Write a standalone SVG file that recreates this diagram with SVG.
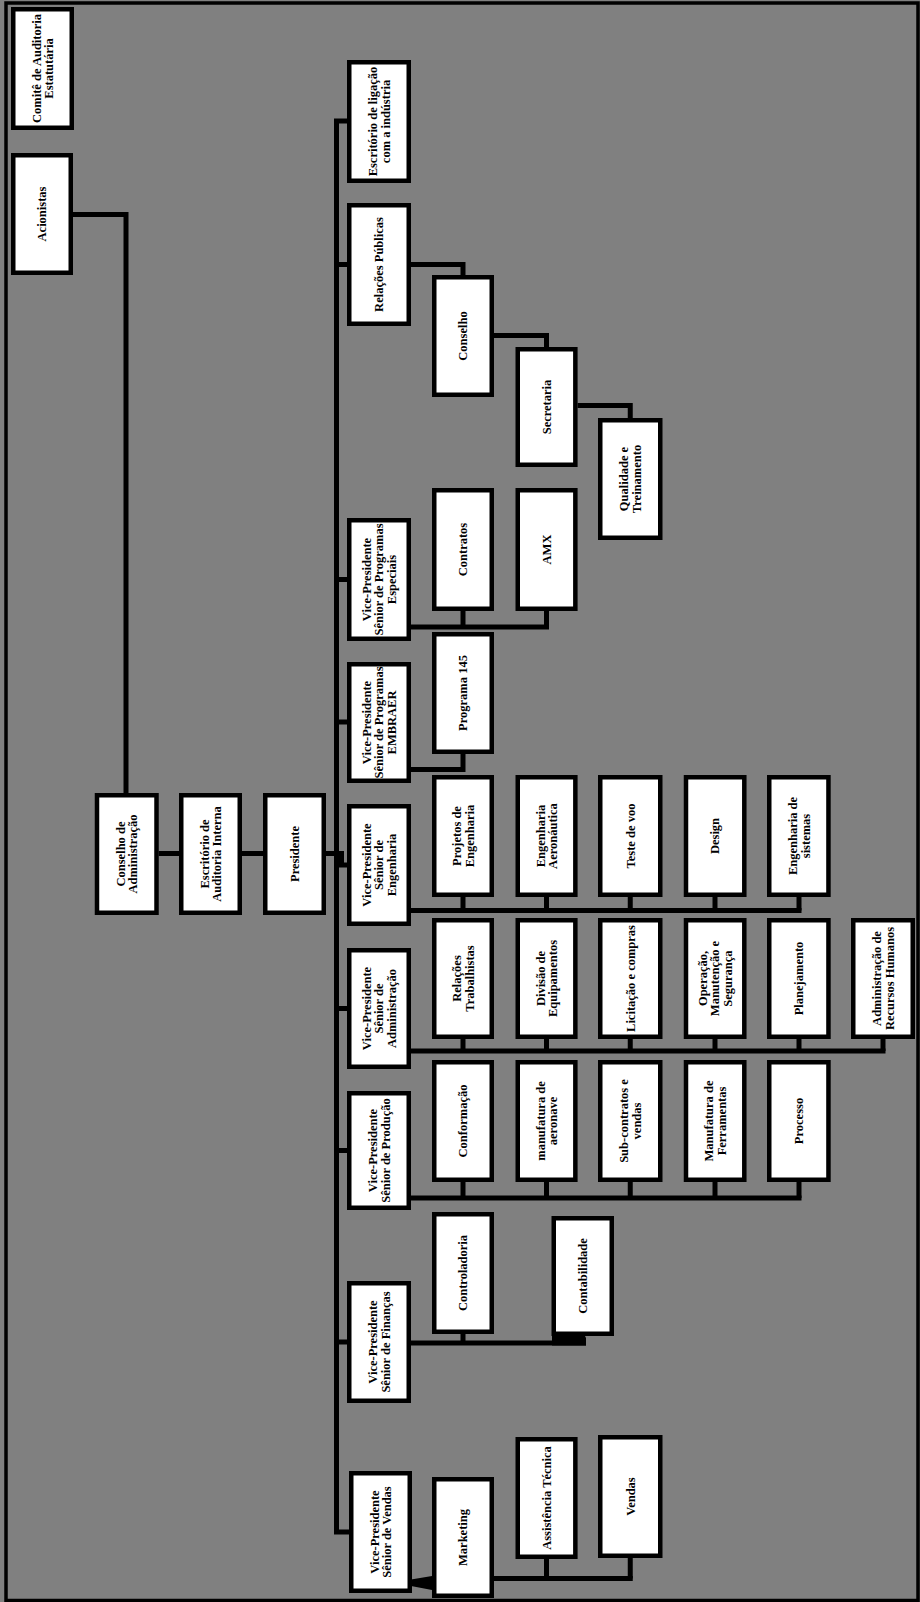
<svg xmlns="http://www.w3.org/2000/svg" width="920" height="1602" viewBox="0 0 920 1602">
<style>
.b{fill:#fff;stroke:#000;stroke-width:4.5}
.l{fill:none;stroke:#000;stroke-width:5;stroke-linecap:butt;stroke-linejoin:miter}
text{font-family:"Liberation Serif","Times New Roman",serif;font-weight:bold;font-size:12.5px;text-anchor:middle;fill:#000}
</style>
<rect x="0" y="0" width="920" height="1602" fill="#808080"/>
<rect x="6" y="3" width="912" height="1597.5" fill="none" stroke="#000" stroke-width="3.5"/>

<g id="connectors">
<path class="l" d="M73 214.5 H126 V793"/>
<path class="l" d="M158.7 853.5 H179"/>
<path class="l" d="M242 853.5 H263"/>
<path class="l" d="M326 853.5 H339"/>
<path class="l" d="M341.5 851 V867"/>
<path class="l" d="M347 121 H336.5 V1532 H349"/>
<path class="l" d="M336.5 264.5 H347"/>
<path class="l" d="M336.5 579.5 H347"/>
<path class="l" d="M336.5 722 H347"/>
<path class="l" d="M336.5 865 H347"/>
<path class="l" d="M336.5 1008.5 H347"/>
<path class="l" d="M336.5 1150.5 H347"/>
<path class="l" d="M336.5 1342 H347"/>
<path class="l" d="M411 264.5 H463 V275"/>
<path class="l" d="M494 335.5 H546.5 V347"/>
<path class="l" d="M577.6 405.5 H630.25 V418"/>
<path class="l" d="M411 627 H549"/>
<path class="l" d="M463 611 V627"/>
<path class="l" d="M546.5 611 V627"/>
<path class="l" d="M411 769.5 H463 V754"/>
<path class="l" d="M411 910.5 H801.5"/>
<path class="l" d="M463 897 V910.5 M546.5 897 V910.5 M630.25 897 V910.5 M715 897 V910.5 M799 897 V910.5"/>
<path class="l" d="M411 1051 H885.5"/>
<path class="l" d="M463 1039 V1051 M546.5 1039 V1051 M630.25 1039 V1051 M715 1039 V1051 M799 1039 V1051 M883 1039 V1051"/>
<path class="l" d="M411 1198 H801.5"/>
<path class="l" d="M463 1182 V1198 M546.5 1182 V1198 M630.25 1182 V1198 M715 1182 V1198 M799 1182 V1198"/>
<path class="l" d="M411 1343 H586"/>
<path class="l" d="M463 1334 V1343"/>
<polygon points="552,1334 584,1334 586,1338 586,1345.5 552,1345.5" fill="#000"/>
<path class="l" d="M494 1578.5 H632.75"/>
<path class="l" d="M546.5 1559 V1578.5 M630.25 1558 V1578.5"/>
<polygon points="411,1579.5 432,1576 432,1590 411,1586" fill="#000"/>
</g>

<g id="comite"><rect class="b" x="13.25" y="9.25" width="58.5" height="118.5"/><text transform="translate(42.5 68.5) rotate(-90)"><tspan x="0" y="-1.8">Comitê de Auditoria</tspan><tspan x="0" y="10.6">Estatutária</tspan></text></g>
<g id="acionistas"><rect class="b" x="13.25" y="155.25" width="57.5" height="117.5"/><text transform="translate(42 214) rotate(-90)"><tspan x="0" y="4.4">Acionistas</tspan></text></g>
<g id="conselho-adm"><rect class="b" x="97" y="795.25" width="59.5" height="117.5"/><text transform="translate(126.7 854) rotate(-90)"><tspan x="0" y="-1.8">Conselho de</tspan><tspan x="0" y="10.6">Administração</tspan></text></g>
<g id="auditoria-interna"><rect class="b" x="181.25" y="795.25" width="58.5" height="117.5"/><text transform="translate(210.5 854) rotate(-90)"><tspan x="0" y="-1.8">Escritório de</tspan><tspan x="0" y="10.6">Auditoria Interna</tspan></text></g>
<g id="presidente"><rect class="b" x="265.25" y="795.25" width="58.5" height="117.5"/><text transform="translate(294.5 854) rotate(-90)"><tspan x="0" y="4.4">Presidente</tspan></text></g>

<g id="ligacao"><rect class="b" x="349.25" y="62.25" width="59.5" height="118.5"/><text transform="translate(379 121.5) rotate(-90)"><tspan x="0" y="-1.8">Escritório de ligação</tspan><tspan x="0" y="10.6">com a indústria</tspan></text></g>
<g id="relacoes-publicas"><rect class="b" x="349.25" y="205.25" width="59.5" height="118.5"/><text transform="translate(379 264.5) rotate(-90)"><tspan x="0" y="4.4">Relações Públicas</tspan></text></g>
<g id="conselho"><rect class="b" x="434.25" y="277.25" width="57.5" height="117.5"/><text transform="translate(463 336) rotate(-90)"><tspan x="0" y="4.4">Conselho</tspan></text></g>
<g id="secretaria"><rect class="b" x="517.75" y="349.25" width="57.6" height="115.5"/><text transform="translate(546.5 407) rotate(-90)"><tspan x="0" y="4.4">Secretaria</tspan></text></g>
<g id="qualidade"><rect class="b" x="600.25" y="420.25" width="60" height="117.5"/><text transform="translate(630.25 479) rotate(-90)"><tspan x="0" y="-1.8">Qualidade e</tspan><tspan x="0" y="10.6">Treinamento</tspan></text></g>

<g id="vp-especiais"><rect class="b" x="349.25" y="520.25" width="59.5" height="118.5"/><text transform="translate(379 579.5) rotate(-90)"><tspan x="0" y="-8">Vice-Presidente</tspan><tspan x="0" y="4.4">Sênior de Programas</tspan><tspan x="0" y="16.8">Especiais</tspan></text></g>
<g id="contratos"><rect class="b" x="434.25" y="490.25" width="57.5" height="118.5"/><text transform="translate(463 549.5) rotate(-90)"><tspan x="0" y="4.4">Contratos</tspan></text></g>
<g id="amx"><rect class="b" x="517.75" y="490.25" width="57.6" height="118.5"/><text transform="translate(546.5 549.5) rotate(-90)"><tspan x="0" y="4.4">AMX</tspan></text></g>

<g id="vp-embraer"><rect class="b" x="349.25" y="664.25" width="59.5" height="116.5"/><text transform="translate(379 722.5) rotate(-90)"><tspan x="0" y="-8">Vice-Presidente</tspan><tspan x="0" y="4.4">Sênior de Programas</tspan><tspan x="0" y="16.8">EMBRAER</tspan></text></g>
<g id="programa-145"><rect class="b" x="434.25" y="634.25" width="57.5" height="117.5"/><text transform="translate(463 693) rotate(-90)"><tspan x="0" y="4.4">Programa 145</tspan></text></g>

<g id="vp-engenharia"><rect class="b" x="349.25" y="806.25" width="59.5" height="117.5"/><text transform="translate(379 865) rotate(-90)"><tspan x="0" y="-8">Vice-Presidente</tspan><tspan x="0" y="4.4">Sênior de</tspan><tspan x="0" y="16.8">Engenharia</tspan></text></g>
<g id="projetos"><rect class="b" x="434.25" y="777.25" width="57.5" height="117.5"/><text transform="translate(463 836) rotate(-90)"><tspan x="0" y="-1.8">Projetos de</tspan><tspan x="0" y="10.6">Engenharia</tspan></text></g>
<g id="eng-aeronautica"><rect class="b" x="517.75" y="777.25" width="57.6" height="117.5"/><text transform="translate(546.5 836) rotate(-90)"><tspan x="0" y="-1.8">Engenharia</tspan><tspan x="0" y="10.6">Aeronáutica</tspan></text></g>
<g id="teste-voo"><rect class="b" x="600.25" y="777.25" width="60" height="117.5"/><text transform="translate(630.25 836) rotate(-90)"><tspan x="0" y="4.4">Teste de voo</tspan></text></g>
<g id="design"><rect class="b" x="686" y="777.25" width="58.3" height="117.5"/><text transform="translate(715 836) rotate(-90)"><tspan x="0" y="4.4">Design</tspan></text></g>
<g id="eng-sistemas"><rect class="b" x="769.25" y="777.25" width="59.2" height="117.5"/><text transform="translate(799 836) rotate(-90)"><tspan x="0" y="-1.8">Engenharia de</tspan><tspan x="0" y="10.6">sistemas</tspan></text></g>

<g id="vp-administracao"><rect class="b" x="349.25" y="950.25" width="59.5" height="116.5"/><text transform="translate(379 1008.5) rotate(-90)"><tspan x="0" y="-8">Vice-Presidente</tspan><tspan x="0" y="4.4">Sênior de</tspan><tspan x="0" y="16.8">Administração</tspan></text></g>
<g id="relacoes-trabalhistas"><rect class="b" x="434.25" y="920.25" width="57.5" height="116.5"/><text transform="translate(463 978.5) rotate(-90)"><tspan x="0" y="-1.8">Relações</tspan><tspan x="0" y="10.6">Trabalhistas</tspan></text></g>
<g id="divisao-equipamentos"><rect class="b" x="517.75" y="920.25" width="57.6" height="116.5"/><text transform="translate(546.5 978.5) rotate(-90)"><tspan x="0" y="-1.8">Divisão de</tspan><tspan x="0" y="10.6">Equipamentos</tspan></text></g>
<g id="licitacao"><rect class="b" x="600.25" y="920.25" width="60" height="116.5"/><text transform="translate(630.25 978.5) rotate(-90)"><tspan x="0" y="4.4">Licitação e compras</tspan></text></g>
<g id="operacao"><rect class="b" x="686" y="920.25" width="58.3" height="116.5"/><text transform="translate(715 978.5) rotate(-90)"><tspan x="0" y="-8">Operação,</tspan><tspan x="0" y="4.4">Manutenção e</tspan><tspan x="0" y="16.8">Segurança</tspan></text></g>
<g id="planejamento"><rect class="b" x="769.25" y="920.25" width="59.2" height="116.5"/><text transform="translate(799 978.5) rotate(-90)"><tspan x="0" y="4.4">Planejamento</tspan></text></g>
<g id="rh"><rect class="b" x="853.25" y="920.25" width="59.5" height="116.5"/><text transform="translate(883 978.5) rotate(-90)"><tspan x="0" y="-1.8">Administração de</tspan><tspan x="0" y="10.6">Recursos Humanos</tspan></text></g>

<g id="vp-producao"><rect class="b" x="349.25" y="1093.25" width="59.5" height="114.5"/><text transform="translate(379 1150.5) rotate(-90)"><tspan x="0" y="-1.8">Vice-Presidente</tspan><tspan x="0" y="10.6">Sênior de Produção</tspan></text></g>
<g id="conformacao"><rect class="b" x="434.25" y="1062.25" width="57.5" height="117.5"/><text transform="translate(463 1121) rotate(-90)"><tspan x="0" y="4.4">Conformação</tspan></text></g>
<g id="manufatura-aeronave"><rect class="b" x="517.75" y="1062.25" width="57.6" height="117.5"/><text transform="translate(546.5 1121) rotate(-90)"><tspan x="0" y="-1.8">manufatura de</tspan><tspan x="0" y="10.6">aeronave</tspan></text></g>
<g id="subcontratos"><rect class="b" x="600.25" y="1062.25" width="60" height="117.5"/><text transform="translate(630.25 1121) rotate(-90)"><tspan x="0" y="-1.8">Sub-contratos e</tspan><tspan x="0" y="10.6">vendas</tspan></text></g>
<g id="ferramentas"><rect class="b" x="686" y="1062.25" width="58.3" height="117.5"/><text transform="translate(715 1121) rotate(-90)"><tspan x="0" y="-1.8">Manufatura de</tspan><tspan x="0" y="10.6">Ferramentas</tspan></text></g>
<g id="processo"><rect class="b" x="769.25" y="1062.25" width="59.2" height="117.5"/><text transform="translate(799 1121) rotate(-90)"><tspan x="0" y="4.4">Processo</tspan></text></g>

<g id="vp-financas"><rect class="b" x="349.25" y="1283.25" width="59.5" height="117.5"/><text transform="translate(379 1342) rotate(-90)"><tspan x="0" y="-1.8">Vice-Presidente</tspan><tspan x="0" y="10.6">Sênior de Finanças</tspan></text></g>
<g id="controladoria"><rect class="b" x="434.25" y="1214.25" width="57.5" height="117.5"/><text transform="translate(463 1273) rotate(-90)"><tspan x="0" y="4.4">Controladoria</tspan></text></g>
<g id="contabilidade"><rect class="b" x="553.75" y="1218.25" width="58" height="115.5"/><text transform="translate(582.75 1276) rotate(-90)"><tspan x="0" y="4.4">Contabilidade</tspan></text></g>

<g id="vp-vendas"><rect class="b" x="351.25" y="1473.25" width="58.5" height="117.5"/><text transform="translate(380.5 1532) rotate(-90)"><tspan x="0" y="-1.8">Vice-Presidente</tspan><tspan x="0" y="10.6">Sênior de Vendas</tspan></text></g>
<g id="marketing"><rect class="b" x="434.25" y="1479.25" width="57.5" height="116.5"/><text transform="translate(463 1537.5) rotate(-90)"><tspan x="0" y="4.4">Marketing</tspan></text></g>
<g id="assistencia"><rect class="b" x="517.75" y="1439.25" width="57.6" height="117.5"/><text transform="translate(546.5 1498) rotate(-90)"><tspan x="0" y="4.4">Assistência Técnica</tspan></text></g>
<g id="vendas"><rect class="b" x="600.25" y="1437.25" width="60" height="118.5"/><text transform="translate(630.25 1496.5) rotate(-90)"><tspan x="0" y="4.4">Vendas</tspan></text></g>
</svg>
